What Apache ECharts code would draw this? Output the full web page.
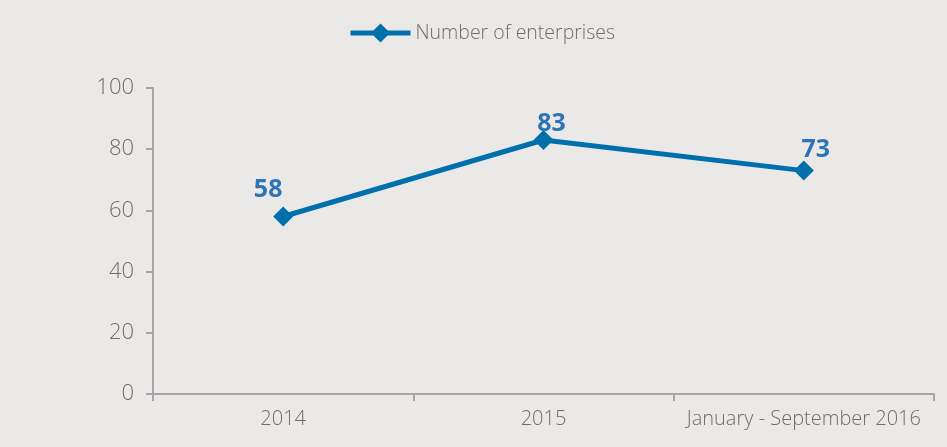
<!DOCTYPE html>
<html><head><meta charset="utf-8">
<script src="https://cdn.jsdelivr.net/npm/echarts@6/dist/echarts.min.js"></script>
<style>html,body{margin:0;padding:0;background:#EBE9E7}#c{width:947px;height:447px}</style>
</head><body><div id="c"></div>
<script>
const categories = ['2014', '2015', 'January - September 2016'];
const seriesName = 'Number of enterprises';
const values = [58, 83, 73];
const yTicks = [0, 20, 40, 60, 80, 100];

const labelOffsets = [[-15, 4], [8, 14], [12, 10]];
const FONT = 'Open Sans';
const chart = echarts.init(document.getElementById('c'));
chart.setOption({
  backgroundColor: '#EBE9E7',
  animation: false,
  legend: {
    top: 18, left: 343,
    itemWidth: 60, itemHeight: 24, itemGap: 1,
    lineStyle: {width: 5},
    textStyle: {color: '#6E6E6E', fontSize: 19.5, fontFamily: FONT, fontWeight: 300},
    data: [seriesName]
  },
  grid: {left: 153, right: 13, top: 88, bottom: 53},
  xAxis: {
    type: 'category', data: categories, boundaryGap: true,
    axisLine: {lineStyle: {color: '#A6A6A6', width: 2}},
    axisTick: {show: true, length: 7, lineStyle: {color: '#A6A6A6', width: 2}},
    axisLabel: {interval: 0, color: '#6E6E6E', fontSize: 20, fontFamily: FONT, fontWeight: 300, margin: 15}
  },
  yAxis: {
    type: 'value', min: yTicks[0], max: yTicks[yTicks.length - 1], interval: yTicks[1] - yTicks[0],
    axisLine: {show: true, lineStyle: {color: '#A6A6A6', width: 2}},
    axisTick: {show: true, length: 7, lineStyle: {color: '#A6A6A6', width: 2}},
    splitLine: {show: false},
    axisLabel: {color: '#6E6E6E', fontSize: 22, fontFamily: FONT, fontWeight: 300, margin: 19}
  },
  series: [{
    name: seriesName, type: 'line',
    data: values.map((v, i) => ({value: v, label: {offset: labelOffsets[i]}})),
    symbol: 'diamond', symbolSize: 20,
    lineStyle: {color: '#0070AC', width: 5},
    itemStyle: {color: '#0070AC'},
    label: {show: true, position: 'top', distance: 8, color: '#2E75B6', fontSize: 25, fontWeight: 'bold', fontFamily: 'Noto Sans'}
  }]
});
</script></body></html>
